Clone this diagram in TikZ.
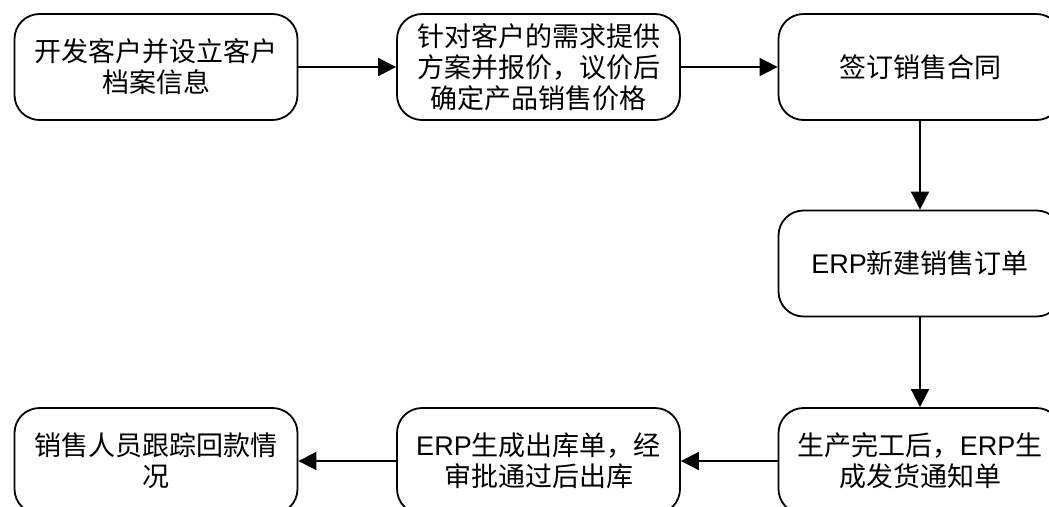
\documentclass[tikz,border=0pt]{standalone}
\usepackage{fontspec}
\setmainfont{Noto Sans CJK SC}
\newfontfamily\latin{Liberation Sans}
\usetikzlibrary{arrows.meta}
\newcommand{\E}{{\latin ERP}}
\begin{document}
\begin{tikzpicture}[x=1pt,y=-1pt,
  box/.style={draw,line width=1.8pt,rounded corners=25pt,minimum width=283pt,minimum height=106pt,
    align=center,inner sep=0pt,font=\fontsize{27}{31}\selectfont},
  flow/.style={line width=1.8pt,-{Triangle[length=18pt,width=18pt]}}]
\useasboundingbox (0,0) rectangle (1049,506);
\clip (0,0) rectangle (1049,506);
\node[box] (a) at (156,67) {开发客户并设立客户\\档案信息};
\node[box] (b) at (538.5,67) {针对客户的需求提供\\方案并报价，议价后\\确定产品销售价格};
\node[box] (c) at (920,67) {签订销售合同};
\node[box] (d) at (920,263.5) {\E 新建销售订单};
\node[box] (e) at (920,461) {生产完工后，\E 生\\成发货通知单};
\node[box] (f) at (538.5,461) {\E 生成出库单，经\\审批通过后出库};
\node[box] (g) at (156,461) {销售人员跟踪回款情\\况};
\draw[flow] (a) -- (b);
\draw[flow] (b) -- (c);
\draw[flow] (c) -- (d);
\draw[flow] (d) -- (e);
\draw[flow] (e) -- (f);
\draw[flow] (f) -- (g);
\end{tikzpicture}
\end{document}
